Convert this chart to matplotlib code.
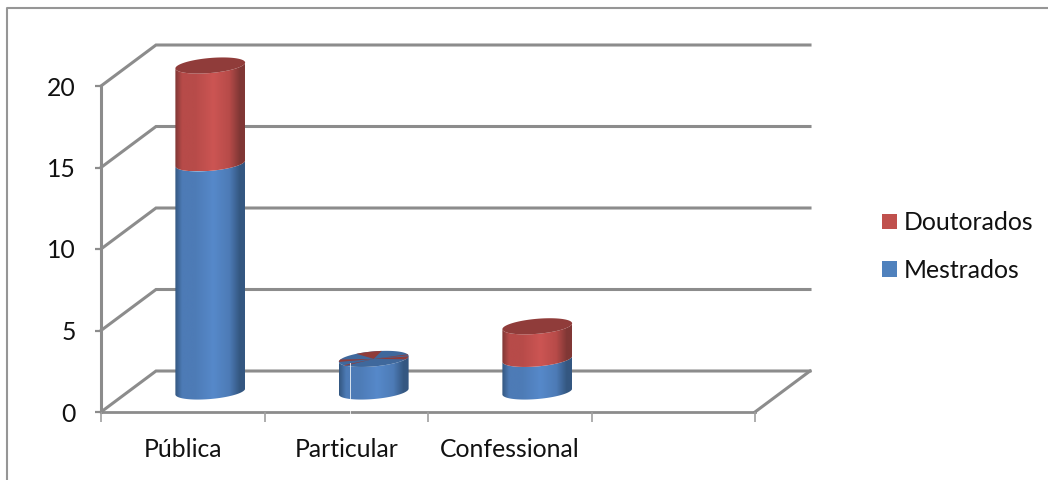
import numpy as np
import matplotlib
matplotlib.use("Agg")
import matplotlib.pyplot as plt
from matplotlib.lines import Line2D
from matplotlib.patches import Patch, PathPatch
from matplotlib.path import Path
from matplotlib.colors import LinearSegmentedColormap

categories = ["Pública", "Particular", "Confessional"]
mestrados = [14, 2, 2]
doutorados = [6, 0, 2]
y_ticks = [0, 5, 10, 15, 20]
series_names = ["Doutorados", "Mestrados"]

plt.rcParams['font.family'] = ['Lato', 'DejaVu Sans']

# pixels per data unit, the axes box sits exactly on the chart floor/left wall
PX_X = 163.5
PX_Y = 16.3
DEPTH_X = 55 / PX_X
DEPTH_Y = 41 / PX_Y
SEMI_A = 35.0
SEMI_B = 7.5
TILT = np.radians(5)
GREY = "#8c8c8c"
FONT = 17.8

fig = plt.figure(figsize=(10.48, 4.8), dpi=100)
ax = fig.add_axes([101 / 1048, 68 / 480, 654 / 1048, 326 / 480])
ax.set_xlim(0, 4)
ax.set_ylim(0, 20)

# only the left and top of the outer frame are in the picture
fig.add_artist(Line2D([6.5 / 1048, 6.5 / 1048, 1], [0, 1 - 7.5 / 480, 1 - 7.5 / 480],
                      color="#969696", lw=1.5, transform=fig.transFigure))

# back wall and side wall grid
for v in y_ticks:
    ax.plot([0, DEPTH_X, 4 + DEPTH_X], [v, v + DEPTH_Y, v + DEPTH_Y], color=GREY, lw=2.2,
            clip_on=False, zorder=1, solid_joinstyle="miter")
ax.plot([4, 4 + DEPTH_X], [0, DEPTH_Y], color=GREY, lw=2.2, clip_on=False, zorder=1)

for s in ["top", "right"]:
    ax.spines[s].set_visible(False)
for s in ["left", "bottom"]:
    ax.spines[s].set_color(GREY)
    ax.spines[s].set_zorder(1.5)
ax.spines["left"].set_linewidth(2.2)
ax.spines["bottom"].set_linewidth(2.0)

ax.set_yticks(y_ticks)
ax.set_xticks(range(5))
ax.set_xticklabels([])
ax.set_xticks([0.5, 1.5, 2.5], labels=categories, minor=True)
ax.tick_params(axis="y", length=4, width=1.6, color=GREY, labelsize=FONT, pad=14, labelcolor="#111111")
ax.tick_params(axis="x", which="major", length=7, width=1.2, color="#a0a0a0")
ax.tick_params(axis="x", which="minor", length=0, labelsize=FONT, pad=19, labelcolor="#111111")
ax.patch.set_alpha(0)


def ellipse(cx, cy, t):
    ex = SEMI_A * np.cos(t) * np.cos(TILT) - SEMI_B * np.sin(t) * np.sin(TILT)
    ey = SEMI_A * np.cos(t) * np.sin(TILT) + SEMI_B * np.sin(t) * np.cos(TILT)
    return cx + ex / PX_X, cy + ey / PX_Y


def side(cx, y0, y1, edge, low, mid, z):
    t = np.linspace(np.pi, 2 * np.pi, 60)
    xb, yb = ellipse(cx, y0, t)
    xt, yt = ellipse(cx, y1, t)
    pts = np.column_stack([np.r_[xb, xt[::-1]], np.r_[yb, yt[::-1]]])
    cmap = LinearSegmentedColormap.from_list("c", [(0, edge), (0.1, low), (0.28, low), (0.55, mid), (0.78, low),
                                                   (0.93, edge), (1, edge)])
    grad = np.linspace(0, 1, 128).reshape(1, -1)
    im = ax.imshow(grad, cmap=cmap, aspect="auto", zorder=z,
                   extent=[pts[:, 0].min(), pts[:, 0].max(), pts[:, 1].min(), pts[:, 1].max()])
    clip = PathPatch(Path(pts), transform=ax.transData, fill=False, edgecolor="none")
    im.set_clip_path(clip)
    im.set_clip_box(fig.bbox)


def top_face(cx, cy, color, z):
    t = np.linspace(0, 2 * np.pi, 120)
    xs, ys = ellipse(cx, cy, t)
    ax.fill(xs, ys, color=color, lw=0, zorder=z, clip_on=False)


for i, (m, d) in enumerate(zip(mestrados, doutorados)):
    cx = i + 0.5 + DEPTH_X / 2
    base = DEPTH_Y / 2
    side(cx, base, base + m, "#345781", "#4d7bb6", "#5689ca", 3 + i)
    if d > 0:
        side(cx, base + m, base + m + d, "#803735", "#b74b49", "#cc5553", 3 + i + 0.1)
        top_face(cx, base + m + d, "#903c3a", 3 + i + 0.2)
    else:
        # empty Doutorados segment: the two colours fight on the top face
        top_face(cx, base + m, "#3f689c", 3 + i + 0.2)
        for a0, a1 in [(0.42, 0.66), (0.90, 1.00), (1.16, 1.20), (1.86, 1.98), (0.03, 0.07)]:
            t = np.linspace(a0 * np.pi, a1 * np.pi, 12)
            xs, ys = ellipse(cx, base + m, t)
            ax.fill(np.r_[cx, xs], np.r_[base + m, ys], color="#903c3a", lw=0, zorder=3 + i + 0.3, clip_on=False)
        # thin white seam left by the export, runs through this bar
        seam = cx - 24 / PX_X
        ax.plot([seam, seam], [-9 / PX_Y, base + m - 4 / PX_Y], color="white", lw=0.7, alpha=0.8,
                clip_on=False, zorder=3 + i + 0.4)
ax.set_xlim(0, 4)
ax.set_ylim(0, 20)

handles = [Patch(facecolor="#c0504d", label=series_names[0]),
           Patch(facecolor="#4f81bd", label=series_names[1])]
fig.legend(handles=handles, loc="center left", bbox_to_anchor=(882 / 1048, 1 - 246.5 / 480), frameon=False,
           fontsize=FONT, handlelength=0.61, handleheight=0.61, handletextpad=0.28, labelspacing=1.0,
           borderpad=0, borderaxespad=0, labelcolor="#111111")

fig.savefig("out.png", dpi=100)
